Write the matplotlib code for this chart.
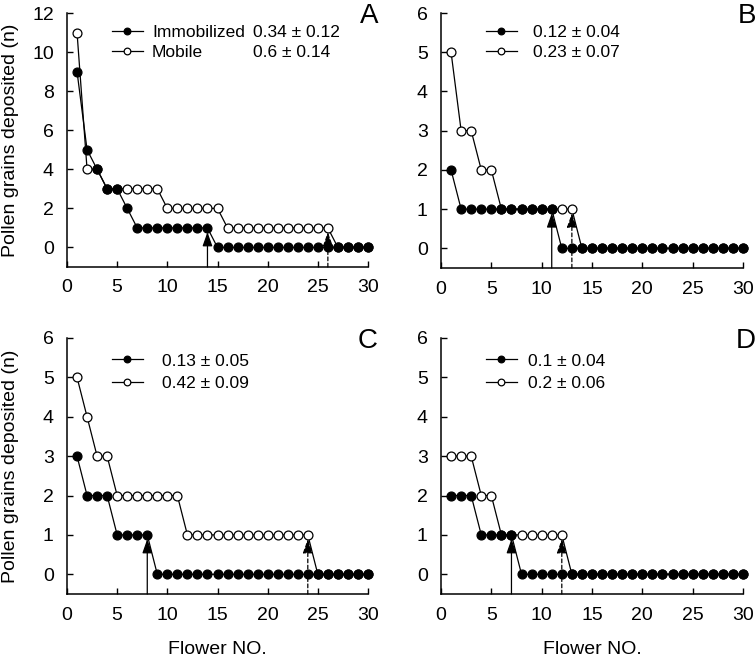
import matplotlib
matplotlib.use("Agg")
import matplotlib.pyplot as plt
import numpy as np

plt.rcParams['font.family'] = ['Liberation Sans', 'DejaVu Sans']

flower = np.arange(1, 31)

# Panel A
A_immob = [9, 5, 4, 3, 3, 2, 1, 1, 1, 1, 1, 1, 1, 1, 0, 0, 0, 0, 0, 0, 0, 0, 0, 0, 0, 0, 0, 0, 0, 0]
A_mobile = [11, 4, 4, 3, 3, 3, 3, 3, 3, 2, 2, 2, 2, 2, 2, 1, 1, 1, 1, 1, 1, 1, 1, 1, 1, 1, 0, 0, 0, 0]
# Panel B
B_immob = [2, 1, 1, 1, 1, 1, 1, 1, 1, 1, 1, 0, 0, 0, 0, 0, 0, 0, 0, 0, 0, 0, 0, 0, 0, 0, 0, 0, 0, 0]
B_mobile = [5, 3, 3, 2, 2, 1, 1, 1, 1, 1, 1, 1, 1, 0, 0, 0, 0, 0, 0, 0, 0, 0, 0, 0, 0, 0, 0, 0, 0, 0]
# Panel C
C_immob = [3, 2, 2, 2, 1, 1, 1, 1, 0, 0, 0, 0, 0, 0, 0, 0, 0, 0, 0, 0, 0, 0, 0, 0, 0, 0, 0, 0, 0, 0]
C_mobile = [5, 4, 3, 3, 2, 2, 2, 2, 2, 2, 2, 1, 1, 1, 1, 1, 1, 1, 1, 1, 1, 1, 1, 1, 0, 0, 0, 0, 0, 0]
# Panel D
D_immob = [2, 2, 2, 1, 1, 1, 1, 0, 0, 0, 0, 0, 0, 0, 0, 0, 0, 0, 0, 0, 0, 0, 0, 0, 0, 0, 0, 0, 0, 0]
D_mobile = [3, 3, 3, 2, 2, 1, 1, 1, 1, 1, 1, 1, 0, 0, 0, 0, 0, 0, 0, 0, 0, 0, 0, 0, 0, 0, 0, 0, 0, 0]

panel_letters = ['A', 'B', 'C', 'D']
immob_stats = ['0.34 ± 0.12', '0.12 ± 0.04', '0.13 ± 0.05', '0.1 ± 0.04']
mobile_stats = ['0.6 ± 0.14', '0.23 ± 0.07', '0.42 ± 0.09', '0.2 ± 0.06']
arrow_immob = [14, 11, 8, 7]
arrow_mobile = [26, 13, 24, 12]
ymax = [12, 6, 6, 6]
ymin = [-1, -0.5, -0.5, -0.5]
ystep = [2, 1, 1, 1]
series_immob = [A_immob, B_immob, C_immob, D_immob]
series_mobile = [A_mobile, B_mobile, C_mobile, D_mobile]

W, H = 756, 657
fig = plt.figure(figsize=(W / 100, H / 100), dpi=100)

# axes boxes in pixels: left, right, top, bottom
boxes = [(67, 368, 13, 267), (441, 743, 13, 268), (67, 368, 338, 594), (441, 743, 338, 594)]
handlepads = [0.55, 0.95, 1.1, 0.65]
labelspacings = [0.28, 0.24, 0.42, 0.42]
leg_top = [0.952, 0.952, 0.94, 0.94]
letter_pos = [(378, 22.7), (756, 22.7), (378, 348), (756, 348)]
FS = 14
LFS = 12.5

legs = []
for i in range(4):
    l, r, t, b = boxes[i]
    ax = fig.add_axes([l / W, 1 - b / H, (r - l) / W, (b - t) / H])
    mob = series_mobile[i]
    imm = series_immob[i]
    lm, = ax.plot(flower, mob, '-o', color='black', lw=0.9, ms=6.4, mfc='white',
                  mec='black', mew=0.9, clip_on=False, zorder=3)
    li, = ax.plot(flower, imm, '-o', color='black', lw=0.9, ms=6.4, mfc='black',
                  mec='black', mew=0.9, clip_on=False, zorder=4)
    # arrows
    xa = arrow_immob[i]
    ax.annotate('', xy=(xa, imm[xa - 1]), xytext=(xa, ymin[i]),
                arrowprops=dict(arrowstyle='-|>,head_length=0.85,head_width=0.3',
                                color='black', lw=0.9, shrinkA=0, shrinkB=3,
                                mutation_scale=10), zorder=5, annotation_clip=False)
    xb = arrow_mobile[i]
    ax.annotate('', xy=(xb, mob[xb - 1]), xytext=(xb, ymin[i]),
                arrowprops=dict(arrowstyle='-|>,head_length=0.85,head_width=0.3',
                                color='black', lw=0.9, ls=(0, (3, 2)), shrinkA=0, shrinkB=3,
                                mutation_scale=10), zorder=5, annotation_clip=False)

    ax.set_xlim(0, 30)
    ax.set_ylim(ymin[i], ymax[i])
    ax.set_xticks(np.arange(0, 31, 5))
    ax.set_yticks(np.arange(0, ymax[i] + 0.1, ystep[i]))
    for s in ['top', 'right']:
        ax.spines[s].set_visible(False)
    for s in ['left', 'bottom']:
        ax.spines[s].set_linewidth(1.1)
    ax.tick_params(axis='both', direction='in', length=4, width=1.0, labelsize=FS)
    ax.tick_params(axis='x', pad=9)
    ax.tick_params(axis='y', pad=9.5)

    if i in (0, 2):
        ax.set_ylabel('Pollen grains deposited (n)', fontsize=FS)
        ax.yaxis.set_label_coords(-(l - 19) / (r - l), 0.5)
    if i in (2, 3):
        ax.set_xlabel('Flower NO.', fontsize=FS, labelpad=12.5)

    if i == 0:
        labels = ['Immobilized', 'Mobile']
    else:
        labels = [immob_stats[i], mobile_stats[i]]
    leg = ax.legend([li, lm], labels, loc='upper left', bbox_to_anchor=(0.15, leg_top[i]),
                    frameon=False, borderpad=0, borderaxespad=0, fontsize=LFS,
                    handlelength=1.75, handletextpad=handlepads[i],
                    labelspacing=labelspacings[i], markerscale=0.75)
    legs.append((ax, leg))

    lx, ly = letter_pos[i]
    fig.text(lx / W, 1 - ly / H, panel_letters[i], fontsize=20, ha='right', va='baseline')

# aligned value column for panel A, vertically matched to the legend rows
fig.canvas.draw()
ax0, leg0 = legs[0]
renderer = fig.canvas.get_renderer()
vals = [immob_stats[0], mobile_stats[0]]
for txt, val in zip(leg0.get_texts(), vals):
    bb = txt.get_window_extent(renderer)
    yc = (bb.y0 + bb.y1) / 2
    yax = ax0.transAxes.inverted().transform((0, yc))[1]
    ax0.text(0.618, yax, val, transform=ax0.transAxes, fontsize=LFS,
             va='center', ha='left')

fig.savefig('out.png', dpi=100)
